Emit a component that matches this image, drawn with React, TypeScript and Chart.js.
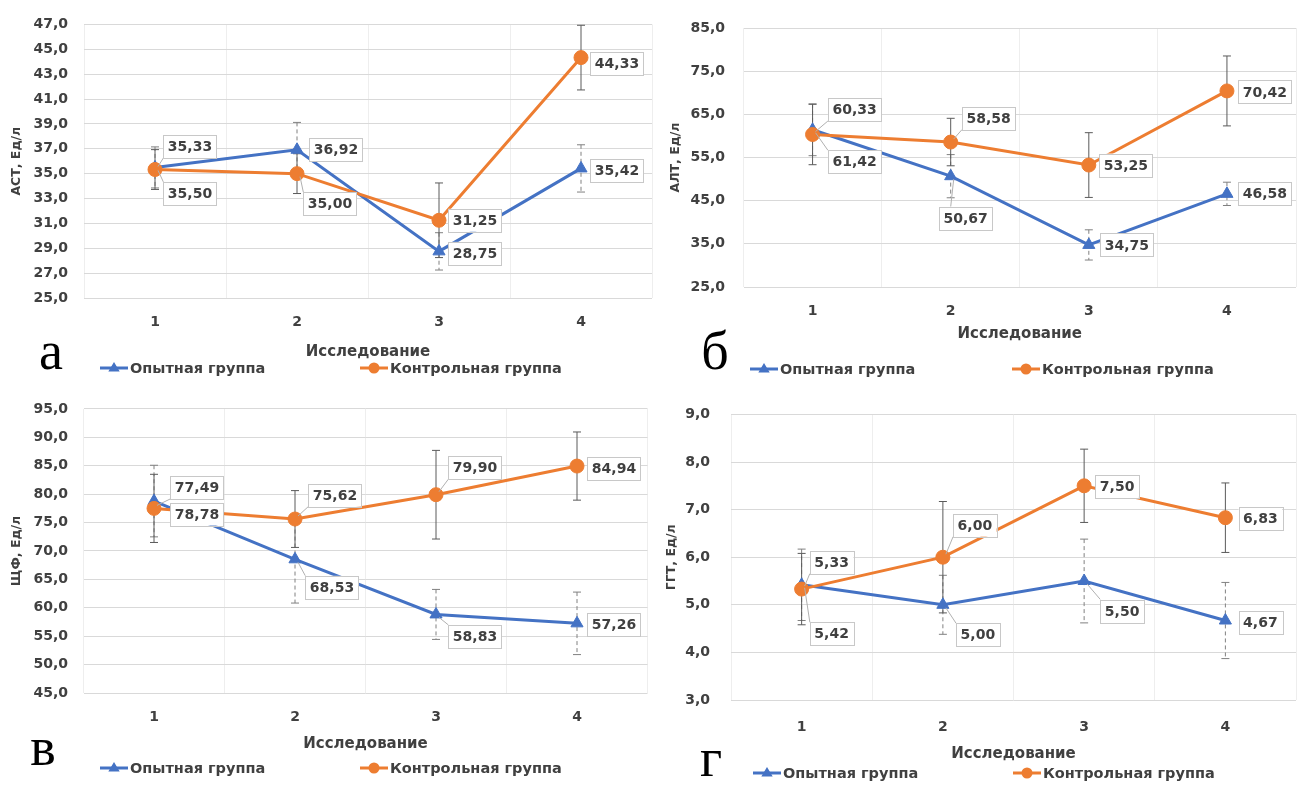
import React, { useEffect, useRef } from 'react';
import { Chart, registerables } from 'chart.js';

Chart.register(...registerables);

const FONT = '"DejaVu Sans", "Liberation Sans", sans-serif';
const TEXT = '#404040';
const BLUE = '#4472C4';
const ORANGE = '#ED7D31';

// ---- data ----
const categories = ['1', '2', '3', '4'];
const seriesNames = ['Опытная группа', 'Контрольная группа'];
const xAxisTitle = 'Исследование';

// АСТ (а)
const astExperimental = [35.5, 36.92, 28.75, 35.42];
const astControl = [35.33, 35.0, 31.25, 44.33];
const astExperimentalErr = [1.65, 2.2, 1.5, 1.9];
const astControlErr = [1.6, 1.6, 3.0, 2.6];

// АЛТ (б)
const altExperimental = [61.42, 50.67, 34.75, 46.58];
const altControl = [60.33, 58.58, 53.25, 70.42];
const altExperimentalErr = [6.0, 5.0, 3.5, 2.7];
const altControlErr = [7.0, 5.5, 7.5, 8.1];

// ЩФ (в)
const alpExperimental = [78.78, 68.53, 58.83, 57.26];
const alpControl = [77.49, 75.62, 79.9, 84.94];
const alpExperimentalErr = [6.3, 7.7, 4.4, 5.5];
const alpControlErr = [6.0, 5.0, 7.8, 6.0];

// ГГТ (г)
const ggtExperimental = [5.42, 5.0, 5.5, 4.67];
const ggtControl = [5.33, 6.0, 7.5, 6.83];
const ggtExperimentalErr = [0.75, 0.62, 0.88, 0.8];
const ggtControlErr = [0.75, 1.17, 0.77, 0.73];

const fmt = (v: number, d: number) => v.toFixed(d).replace('.', ',');

type Panel = {
  key: string;
  letter: string;
  yTitle: string;
  exp: number[];
  ctrl: number[];
  expErr: number[];
  ctrlErr: number[];
  yMin: number;
  yMax: number;
  yStep: number;
  box: { x: number; y: number; w: number; h: number };
  pad: { top: number; right: number; left: number; bottom: number };
  yWidth: number;
  yTitlePad: number;
  yTickPad: number;
  xHeight: number;
  xTickPad: number;
  expOff: number[][];
  ctrlOff: number[][];
  legend: { x1: number; x2: number; y: number };
  letterPos: { x: number; y: number };
};

const panels: Panel[] = [
  {
    key: 'a', letter: 'а', yTitle: 'АСТ, Ед/л',
    exp: astExperimental, ctrl: astControl, expErr: astExperimentalErr, ctrlErr: astControlErr,
    yMin: 25, yMax: 47, yStep: 2,
    box: { x: 0, y: 0, w: 660, h: 385 },
    pad: { top: 17, right: 7, left: 4, bottom: 23.6 },
    yWidth: 80, yTitlePad: 5.6, yTickPad: 16, xHeight: 63.4, xTickPad: 16,
    expOff: [[35, 26], [39, 0], [36, 2], [36, 2]],
    ctrlOff: [[35, -23], [33, 30], [36, 0], [36, 6]],
    legend: { x1: 100, x2: 360, y: 368 },
    letterPos: { x: 51, y: 369 },
  },
  {
    key: 'b', letter: 'б', yTitle: 'АЛТ, Ед/л',
    exp: altExperimental, ctrl: altControl, expErr: altExperimentalErr, ctrlErr: altControlErr,
    yMin: 25, yMax: 85, yStep: 10,
    box: { x: 660, y: 0, w: 644, h: 385 },
    pad: { top: 28, right: 4.5, left: 4, bottom: 41.6 },
    yWidth: 79.5, yTitlePad: 4.6, yTickPad: 18.5, xHeight: 56.4, xTickPad: 16,
    expOff: [[42, 32], [15, 42], [38, 0], [38, 0]],
    ctrlOff: [[42, -25], [38, -24], [37, 0], [38, 1]],
    legend: { x1: 90, x2: 352, y: 369 },
    letterPos: { x: 55, y: 369 },
  },
  {
    key: 'c', letter: 'в', yTitle: 'ЩФ, Ед/л',
    exp: alpExperimental, ctrl: alpControl, expErr: alpExperimentalErr, ctrlErr: alpControlErr,
    yMin: 45, yMax: 95, yStep: 5,
    box: { x: 0, y: 385, w: 660, h: 400 },
    pad: { top: 20, right: 12.5, left: 4, bottom: 31.6 },
    yWidth: 79.5, yTitlePad: 5.6, yTickPad: 15.5, xHeight: 60.4, xTickPad: 16,
    expOff: [[43, 13], [37, 28], [39, 22], [37, 1]],
    ctrlOff: [[43, -21], [40, -24], [39, -27], [37, 2]],
    legend: { x1: 100, x2: 360, y: 383 },
    letterPos: { x: 43, y: 380 },
  },
  {
    key: 'd', letter: 'г', yTitle: 'ГГТ, Ед/л',
    exp: ggtExperimental, ctrl: ggtControl, expErr: ggtExperimentalErr, ctrlErr: ggtControlErr,
    yMin: 3, yMax: 9, yStep: 1,
    box: { x: 660, y: 385, w: 644, h: 400 },
    pad: { top: 20, right: 5, left: 4, bottom: 21.6 },
    yWidth: 67, yTitlePad: 0.6, yTickPad: 21, xHeight: 63.4, xTickPad: 19,
    expOff: [[30, 49], [35, 30], [38, 30], [35, 2]],
    ctrlOff: [[30, -27], [32, -32], [33, 1], [35, 1]],
    legend: { x1: 93, x2: 353, y: 388 },
    letterPos: { x: 51, y: 391 },
  },
];

function drawTriangle(ctx: CanvasRenderingContext2D, x: number, y: number, r: number) {
  ctx.beginPath();
  ctx.moveTo(x, y - r);
  ctx.lineTo(x + r * 0.95, y + r * 0.6);
  ctx.lineTo(x - r * 0.95, y + r * 0.6);
  ctx.closePath();
  ctx.fill();
}

function makeOverlay(p: Panel) {
  return {
    id: 'overlay_' + p.key,
    beforeDatasetsDraw(chart: any) {
      const ctx: CanvasRenderingContext2D = chart.ctx;
      const ys = chart.scales.y;
      const sets: [number, number[], number[], boolean][] = [
        [0, p.exp, p.expErr, true],
        [1, p.ctrl, p.ctrlErr, false],
      ];
      ctx.save();
      for (const [di, vals, errs, dashed] of sets) {
        const meta = chart.getDatasetMeta(di);
        vals.forEach((v, j) => {
          const x = meta.data[j].x;
          const t = ys.getPixelForValue(v + errs[j]);
          const b = ys.getPixelForValue(v - errs[j]);
          ctx.strokeStyle = dashed ? '#808080' : '#5a5a5a';
          ctx.lineWidth = 1;
          ctx.setLineDash(dashed ? [4, 3] : []);
          ctx.beginPath();
          ctx.moveTo(x, t);
          ctx.lineTo(x, b);
          ctx.stroke();
          ctx.setLineDash([]);
          ctx.beginPath();
          ctx.moveTo(x - 4, t);
          ctx.lineTo(x + 4, t);
          ctx.moveTo(x - 4, b);
          ctx.lineTo(x + 4, b);
          ctx.stroke();
        });
      }
      ctx.restore();
    },
    afterDatasetsDraw(chart: any) {
      const ctx: CanvasRenderingContext2D = chart.ctx;
      const sets: [number, number[], number[][]][] = [
        [0, p.exp, p.expOff],
        [1, p.ctrl, p.ctrlOff],
      ];
      ctx.save();
      ctx.font = `bold 14px ${FONT}`;
      for (const [di, vals, offs] of sets) {
        const meta = chart.getDatasetMeta(di);
        vals.forEach((v, j) => {
          const px = meta.data[j].x;
          const py = meta.data[j].y;
          const [dx, dy] = offs[j];
          const txt = fmt(v, 2);
          const tw = ctx.measureText(txt).width;
          const bw = tw + 9;
          const bh = 23;
          const cx = px + dx;
          const cy = py + dy;
          const bx = cx - bw / 2;
          const by = cy - bh / 2;
          if (Math.abs(dy) > 14) {
            const ex = Math.min(Math.max(px, bx), bx + bw);
            const ey = dy > 0 ? by : by + bh;
            ctx.strokeStyle = '#b0b0b0';
            ctx.lineWidth = 1;
            ctx.beginPath();
            ctx.moveTo(px + (dx > 0 ? 3 : 0), py + (dy > 0 ? 3 : -3));
            ctx.lineTo(ex, ey);
            ctx.stroke();
          }
          ctx.fillStyle = '#ffffff';
          ctx.fillRect(bx, by, bw, bh);
          ctx.strokeStyle = '#c8c8c8';
          ctx.lineWidth = 1;
          ctx.strokeRect(Math.round(bx) + 0.5, Math.round(by) + 0.5, Math.round(bw), Math.round(bh));
          ctx.fillStyle = TEXT;
          ctx.textAlign = 'center';
          ctx.textBaseline = 'middle';
          ctx.fillText(txt, cx, cy + 1);
        });
      }
      ctx.restore();
    },
    afterDraw(chart: any) {
      const ctx: CanvasRenderingContext2D = chart.ctx;
      ctx.save();
      // legend
      seriesNames.forEach((name, i) => {
        const x = i === 0 ? p.legend.x1 : p.legend.x2;
        const y = p.legend.y;
        const col = i === 0 ? BLUE : ORANGE;
        ctx.strokeStyle = col;
        ctx.lineWidth = 3;
        ctx.beginPath();
        ctx.moveTo(x, y);
        ctx.lineTo(x + 28, y);
        ctx.stroke();
        ctx.fillStyle = col;
        if (i === 0) {
          drawTriangle(ctx, x + 14, y, 6);
        } else {
          ctx.beginPath();
          ctx.arc(x + 14, y, 5.5, 0, Math.PI * 2);
          ctx.fill();
        }
        ctx.fillStyle = TEXT;
        ctx.font = `bold 14.5px ${FONT}`;
        ctx.textAlign = 'left';
        ctx.textBaseline = 'middle';
        ctx.fillText(name, x + 30, y + 1);
      });
      // panel letter
      ctx.fillStyle = '#000000';
      ctx.font = '54px "Liberation Serif", "DejaVu Serif", serif';
      ctx.textAlign = 'center';
      ctx.textBaseline = 'alphabetic';
      ctx.fillText(p.letter, p.letterPos.x, p.letterPos.y);
      ctx.restore();
    },
  };
}

function ChartPanel({ p }: { p: Panel }) {
  const ref = useRef<HTMLCanvasElement>(null);
  useEffect(() => {
    if (!ref.current) return;
    const tickFont = { family: FONT, size: 14, weight: 'bold' as const };
    const chart = new Chart(ref.current, {
      type: 'line',
      data: {
        labels: categories,
        datasets: [
          {
            label: seriesNames[0],
            data: p.exp,
            borderColor: BLUE,
            backgroundColor: BLUE,
            borderWidth: 3,
            pointStyle: 'triangle',
            pointRadius: 7,
            pointBorderWidth: 1,
            tension: 0,
            order: 1,
          },
          {
            label: seriesNames[1],
            data: p.ctrl,
            borderColor: ORANGE,
            backgroundColor: ORANGE,
            borderWidth: 3,
            pointStyle: 'circle',
            pointRadius: 7,
            pointBorderWidth: 1,
            tension: 0,
            order: 0,
          },
        ],
      },
      options: {
        responsive: false,
        animation: false,
        events: [],
        layout: { padding: p.pad },
        plugins: {
          legend: { display: false },
          tooltip: { enabled: false },
        },
        scales: {
          x: {
            type: 'category',
            offset: true,
            grid: { offset: true, color: '#eeeeee', drawTicks: false },
            border: { display: false },
            ticks: { padding: p.xTickPad, font: tickFont, color: TEXT },
            title: {
              display: true,
              text: xAxisTitle,
              font: { family: FONT, size: 15, weight: 'bold' },
              color: TEXT,
              padding: { top: 0, bottom: 0 },
            },
            afterFit: (s: any) => {
              s.height = p.xHeight;
            },
          },
          y: {
            type: 'linear',
            min: p.yMin,
            max: p.yMax,
            grid: { color: '#d9d9d9', drawTicks: false },
            border: { display: false },
            ticks: {
              stepSize: p.yStep,
              padding: p.yTickPad,
              font: tickFont,
              color: TEXT,
              callback: (v: any) => fmt(Number(v), 1),
            },
            title: {
              display: true,
              text: p.yTitle,
              font: { family: FONT, size: 12.5, weight: 'bold' },
              color: TEXT,
              padding: { top: p.yTitlePad, bottom: 0 },
            },
            afterFit: (s: any) => {
              s.width = p.yWidth;
            },
          },
        },
      },
      plugins: [makeOverlay(p)],
    } as any);
    return () => chart.destroy();
  }, [p]);
  return (
    <canvas
      ref={ref}
      width={p.box.w}
      height={p.box.h}
      style={{ position: 'absolute', left: p.box.x, top: p.box.y, width: p.box.w, height: p.box.h }}
    />
  );
}

export default function App() {
  return (
    <div
      style={{
        position: 'fixed',
        left: 0,
        top: 0,
        width: 1304,
        height: 785,
        background: '#ffffff',
        overflow: 'hidden',
      }}
    >
      {panels.map((p) => (
        <ChartPanel key={p.key} p={p} />
      ))}
    </div>
  );
}
